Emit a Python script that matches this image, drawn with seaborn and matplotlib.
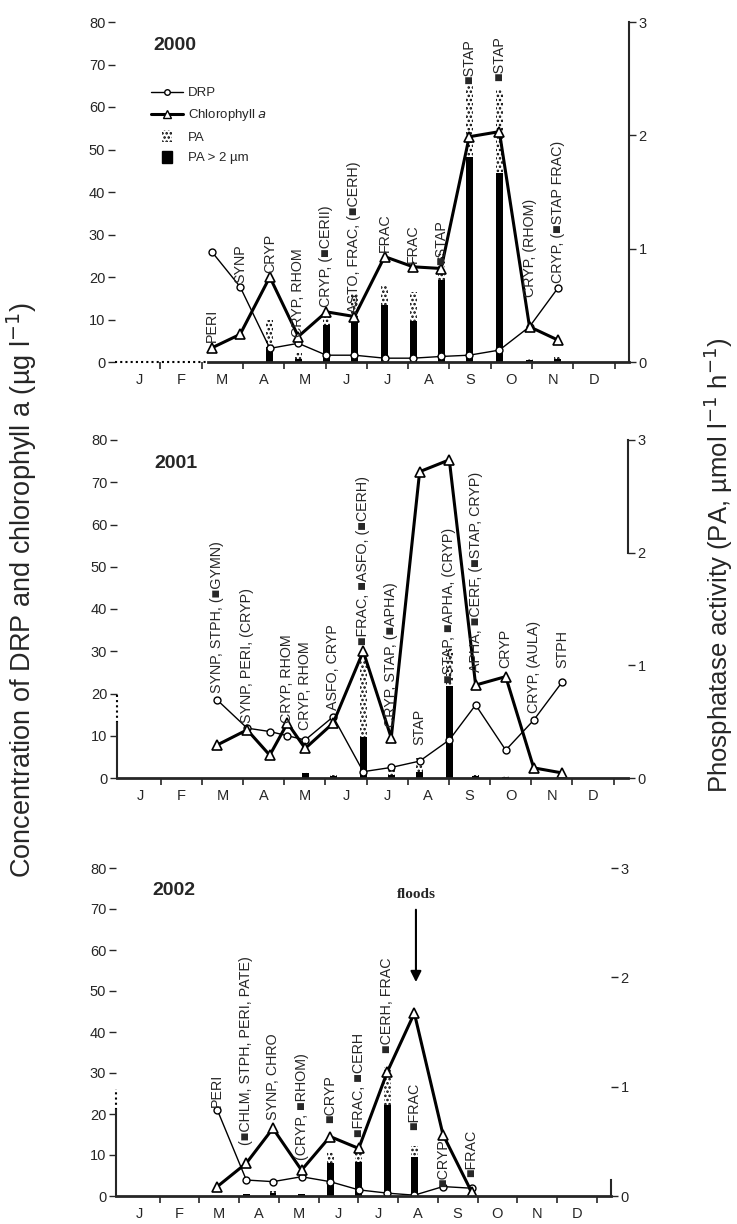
import matplotlib
matplotlib.use("Agg")
import matplotlib.pyplot as plt
from matplotlib.lines import Line2D
from matplotlib.patches import Patch, Rectangle
from matplotlib.legend_handler import HandlerPatch
import seaborn as sns

MONTHS = ["J", "F", "M", "A", "M", "J", "J", "A", "S", "O", "N", "D"]

# ---- 2000 ----  (x = months since 1 Jan)
x_2000 = [2.24, 2.93, 3.65, 4.34, 5.02, 5.70, 6.43, 7.12, 7.80, 8.48, 9.21, 9.94, 10.62]
drp_2000 = [26.0, 17.7, 3.2, 4.4, 1.6, 1.6, 0.9, 0.9, 1.3, 1.6, 2.8, 8.3, 17.3]
chl_2000 = [3.3, 6.5, 20.0, 6.0, 11.8, 10.7, 24.8, 22.4, 22.0, 53.0, 54.2, 8.3, 5.2]
pa_2000 = [0, 0, 0.37, 0.08, 0.40, 0.61, 0.68, 0.62, 0.95, 2.44, 2.40, 0.03, 0.04]
pa2_2000 = [0, 0, 0.13, 0.03, 0.33, 0.35, 0.50, 0.36, 0.72, 1.81, 1.67, 0.02, 0.03]
taxa_2000 = ["PERI", "SYNP", "CRYP", "CRYP, RHOM", "CRYP, (\u25a0CERII)",
             "ASTO, FRAC, (\u25a0CERH)", "FRAC", "FRAC", "\u25a0STAP", "\u25a0STAP",
             "\u25a0STAP", "CRYP, (RHOM)", "CRYP, (\u25a0STAP FRAC)"]

# ---- 2001 ----
x_2001 = [2.37, 3.10, 3.65, 4.08, 4.51, 5.19, 5.92, 6.60, 7.29, 8.01, 8.65, 9.38, 10.06, 10.75]
drp_2001 = [18.5, 11.8, 11.0, 10.0, 9.0, 14.5, 1.5, 2.5, 4.0, 9.0, 17.3, 6.6, 13.7, 22.7]
chl_2001 = [7.8, 11.4, 5.4, 13.0, 7.0, 13.0, 30.0, 9.5, 72.5, 75.3, 22.0, 24.0, 2.4, 1.2]
pa_2001 = [0, 0, 0, 0, 0.05, 0.03, 1.05, 0.08, 0.18, 1.15, 0.03, 0.02, 0, 0]
pa2_2001 = [0, 0, 0, 0, 0.04, 0.02, 0.36, 0.03, 0.05, 0.82, 0.02, 0.01, 0, 0]
taxa_2001 = ["SYNP, STPH, (\u25a0GYMN)", "SYNP, PERI, (CRYP)", "", "CRYP, RHOM",
             "CRYP, RHOM", "ASFO, CRYP", "\u25a0FRAC, \u25a0ASFO, (\u25a0CERH)",
             "CRYP, STAP, (\u25a0APHA)", "STAP", "\u25a0STAP, \u25a0APHA, (CRYP)",
             "APHA, \u25a0CERF, (\u25a0STAP, CRYP)", "CRYP", "CRYP, (AULA)", "STPH"]

# ---- 2002 ----
x_2002 = [2.45, 3.18, 3.85, 4.57, 5.29, 6.01, 6.73, 7.41, 8.13, 8.85]
drp_2002 = [21.0, 3.9, 3.5, 4.7, 3.5, 1.5, 0.7, 0.2, 2.3, 1.9]
chl_2002 = [2.3, 8.0, 16.5, 6.3, 14.5, 11.6, 30.3, 44.6, 15.0, 1.0]
pa_2002 = [0, 0.03, 0.05, 0.02, 0.40, 0.39, 1.18, 0.46, 0, 0]
pa2_2002 = [0, 0.02, 0.03, 0.02, 0.30, 0.31, 0.83, 0.36, 0, 0]
taxa_2002 = ["PERI", "(\u25a0CHLM, STPH, PERI, PATE)", "SYNP, CHRO", "(CRYP, \u25a0RHOM)",
             "\u25a0CRYP", "\u25a0FRAC, \u25a0CERH", "\u25a0CERH, FRAC", "\u25a0FRAC",
             "\u25a0CRYP", "\u25a0FRAC"]

# label baseline heights (left-axis units) - layout only
lab_y_2000 = [4.8, 18.6, 21.0, 6.0, 13.0, 11.5, 26.0, 23.3, 22.8, 65.4, 66.1, 15.4, 18.6]
lab_y_2001 = [20.0, 13.0, 0, 13.0, 11.4, 16.0, 31.5, 12.1, 7.8, 22.5, 25.0, 26.0, 15.4, 26.0]
lab_y_2002 = [21.8, 12.4, 18.5, 8.8, 17.8, 14.5, 34.8, 16.0, 2.3, 4.7]

BAR_W = 0.17
LAB_FS = 10.3

sns.set_style("ticks")
plt.rcParams["font.family"] = ["Liberation Sans", "DejaVu Sans"]
plt.rcParams["hatch.linewidth"] = 1.2

fig = plt.figure(figsize=(7.37, 12.24), dpi=100)
W, H = 737, 1224


def panel(px, year, x, drp, chl, pa, pa2, taxa, lab_y, xlim, lbounds, rbounds,
          dotted_to=None, ldotted=None):
    l, t, r, b = px
    ax = fig.add_axes([l / W, 1 - b / H, (r - l) / W, (b - t) / H])
    ax2 = ax.twinx()
    ax2.bar(x, pa, width=BAR_W, facecolor="white", edgecolor="black", hatch="....", linewidth=0)
    ax2.bar(x, pa2, width=BAR_W, color="black", linewidth=0)
    ax.set_zorder(ax2.get_zorder() + 1)
    ax.patch.set_visible(False)

    sns.lineplot(x=x, y=drp, ax=ax, sort=False, color="black", lw=1, marker="o",
                 markersize=5, markerfacecolor="white", markeredgecolor="black",
                 markeredgewidth=1)
    sns.lineplot(x=x, y=chl, ax=ax, sort=False, color="black", lw=2.2, marker="^",
                 markersize=7, markerfacecolor="white", markeredgecolor="black",
                 markeredgewidth=1.2)
    for xi, txt, yb in zip(x, taxa, lab_y):
        if txt:
            ax.text(xi, yb, txt, rotation=90, ha="center", va="bottom", fontsize=LAB_FS)

    ax.set_xlim(*xlim)
    ax.set_ylim(0, 80)
    ax2.set_ylim(0, 3)
    ax.set_yticks(range(0, 81, 10))
    ax2.set_yticks([0, 1, 2, 3])
    ax.set_xticks(range(1, 13))
    ax.set_xticklabels([])
    ax.set_xticks([i + 0.5 for i in range(12)], minor=True)
    ax.set_xticklabels(MONTHS, minor=True)
    ax.tick_params(axis="x", which="minor", length=0, pad=8, labelsize=10.5)
    ax.tick_params(axis="x", which="major", length=5, width=1.2, direction="out")
    ax.tick_params(axis="y", length=5, width=1, labelsize=10.5, pad=2)
    ax2.tick_params(axis="y", length=5, width=1, labelsize=10.5, pad=2)

    for s in ["top", "right"]:
        ax.spines[s].set_visible(False)
    for s in ["top", "left", "bottom"]:
        ax2.spines[s].set_visible(False)
    ax.spines["bottom"].set_linewidth(2)
    ax.spines["left"].set_linewidth(1.5)
    ax2.spines["right"].set_linewidth(1.5)
    if lbounds is None:
        ax.spines["left"].set_visible(False)
    else:
        ax.spines["left"].set_bounds(*lbounds)
    if ldotted is not None:
        ax.plot([xlim[0], xlim[0]], ldotted, ls=(0, (1, 1.5)), color="black", lw=1.5,
                clip_on=False)
    if rbounds is None:
        ax2.spines["right"].set_visible(False)
    else:
        ax2.spines["right"].set_bounds(*rbounds)
    if dotted_to is not None:
        ax.spines["bottom"].set_bounds(dotted_to, xlim[1])
        ax.plot([xlim[0], dotted_to], [0, 0], ls=(0, (1, 1.5)), color="black", lw=1.5,
                clip_on=False)
    ax.text(0.074, 0.93, year, transform=ax.transAxes, fontsize=14, fontweight="bold",
            va="center", ha="left")
    ax.grid(False)
    ax2.grid(False)
    return ax, ax2


ax1, _ = panel((115, 22, 629, 362), "2000", x_2000, drp_2000, chl_2000, pa_2000, pa2_2000,
               taxa_2000, lab_y_2000, (-0.1, 12.35), None, (0, 3), dotted_to=2.15)
ax2_, _ = panel((117, 440, 628, 778), "2001", x_2001, drp_2001, chl_2001, pa_2001, pa2_2001,
                taxa_2001, lab_y_2001, (-0.06, 12.35), (0, 13), (2, 3), ldotted=(13, 20))
ax3, _ = panel((116, 868, 611, 1196), "2002", x_2002, drp_2002, chl_2002, pa_2002, pa2_2002,
               taxa_2002, lab_y_2002, (-0.1, 12.36), (0, 21), (0, 0.15), ldotted=(21, 26))

# floods arrow
ax3.annotate("", xy=(7.45, 51.5), xytext=(7.45, 70.5),
             arrowprops=dict(arrowstyle="-|>", color="black", lw=1.5, mutation_scale=16))
ax3.text(7.45, 73.5, "floods", ha="center", va="center", fontsize=11, fontweight="bold",
         family="Liberation Serif")


def small_box(legend, orig_handle, xdescent, ydescent, width, height, fontsize):
    return Rectangle((-xdescent + 0.34 * width, -ydescent - 0.15 * height),
                     0.32 * width, 1.3 * height)


handles = [
    Line2D([], [], color="black", lw=1, marker="o", markersize=4,
           markerfacecolor="white", markeredgecolor="black"),
    Line2D([], [], color="black", lw=2.2, marker="^", markersize=6,
           markerfacecolor="white", markeredgecolor="black"),
    Patch(facecolor="white", edgecolor="black", hatch="....", linewidth=0),
    Patch(facecolor="black", edgecolor="black"),
]
ax1.legend(handles, ["DRP", "Chlorophyll $a$", "PA", "PA > 2 \u00b5m"], loc="upper left",
           bbox_to_anchor=(0.058, 0.828), frameon=False, fontsize=9.5, handlelength=2.4,
           labelspacing=0.62, borderpad=0, handletextpad=0.4,
           handler_map={Patch: HandlerPatch(patch_func=small_box)})

fig.text(22 / W, 1 - 590 / H, "Concentration of DRP and chlorophyll a (\u00b5g l$^{-1}$)",
         rotation=90, ha="center", va="center", fontsize=19.5)
fig.text(718 / W, 1 - 565 / H, "Phosphatase activity (PA, \u00b5mol l$^{-1}$ h$^{-1}$)",
         rotation=90, ha="center", va="center", fontsize=18.5)

fig.savefig("out.png", dpi=100)
